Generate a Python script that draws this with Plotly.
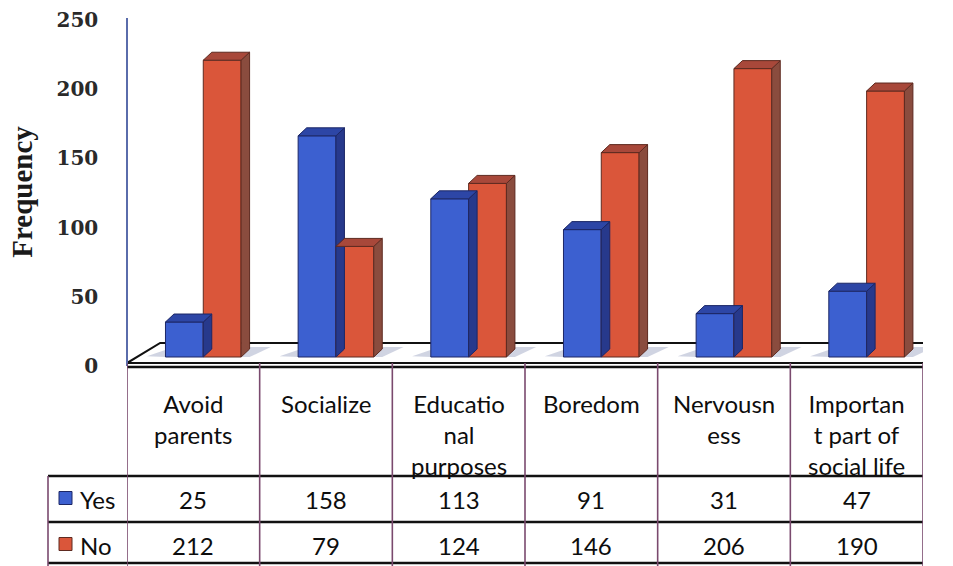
import plotly.graph_objects as go

# ---- data -------------------------------------------------------------
col_labels = ["Avoid<br>parents", "Socialize", "Educatio<br>nal<br>purposes",
              "Boredom", "Nervousn<br>ess", "Importan<br>t part of<br>social life"]
series_names = ["Yes", "No"]
yes_vals = [25, 158, 113, 91, 31, 47]
no_vals = [212, 79, 124, 146, 206, 190]
y_ticks = [0, 50, 100, 150, 200, 250]

# ---- page geometry helpers (pixels -> paper fractions) ------------------
W, H = 953, 566
def fx(px):
    return px / W
def fy(py):
    return 1 - py / H

# colours for front / top / side faces
BLUE = dict(front="#3c60d0", top="#2d46a6", side="#27398c", edge="#1c2766")
RED = dict(front="#da563a", top="#a8483a", side="#8a4c3e", edge="#5e2a20")

# bar layout in category units and 3-D depth offsets
BAR_W = 0.285
OFFS = [-0.21, 0.075]
DX, DY = 0.064, 5.7

cats = list(range(len(col_labels)))
fig = go.Figure()


def faces(vals, off, col, name):
    """Front face as a bar, plus top and side faces as filled polygons."""
    tx, ty, sx, sy = [], [], [], []
    for i, v in zip(cats, vals):
        x0, x1 = i + off, i + off + BAR_W
        tx += [x0, x1, x1 + DX, x0 + DX, x0, None]
        ty += [v, v, v + DY, v + DY, v, None]
        sx += [x1, x1 + DX, x1 + DX, x1, x1, None]
        sy += [0, DY, v + DY, v, 0, None]
    fig.add_trace(go.Scatter(x=sx, y=sy, fill="toself", fillcolor=col["side"],
                             mode="lines", line=dict(color=col["edge"], width=1),
                             hoverinfo="skip", showlegend=False))
    fig.add_trace(go.Scatter(x=tx, y=ty, fill="toself", fillcolor=col["top"],
                             mode="lines", line=dict(color=col["edge"], width=1),
                             hoverinfo="skip", showlegend=False))
    fig.add_trace(go.Bar(x=cats, y=vals, name=name, width=BAR_W, offset=off,
                         marker=dict(color=col["front"],
                                     line=dict(color=col["edge"], width=1)),
                         showlegend=False))


faces(yes_vals, OFFS[0], BLUE, series_names[0])
faces(no_vals, OFFS[1], RED, series_names[1])

# an invisible trace so the value axis is rendered
fig.add_trace(go.Scatter(x=[None], y=[None], xaxis="x", yaxis="y2",
                         showlegend=False, hoverinfo="skip"))

shapes = []
# floor of the 3-D plot area
shapes.append(dict(type="path", xref="x", yref="y", layer="below",
                   path="M -0.5,-4.3 L 5.5,-4.3 L 5.69,10 L -0.25,10 Z",
                   fillcolor="white", line=dict(color="#111", width=2)))
# soft shadows around each bar pair
for i in cats:
    x0 = i + OFFS[0]
    x1 = i + OFFS[1] + BAR_W + DX
    shapes.append(dict(type="path", xref="x", yref="y", layer="below",
                       path=f"M {x0-0.14},0.6 L {x0},0 L {x1},0 L {x1+0.16},{DY+1.5} L {x0+DX},{DY+1.5} Z",
                       fillcolor="rgba(150,160,190,0.45)", line=dict(width=0)))

# data table grid
LINE = dict(color="#111", width=2.5)
shapes.append(dict(type="line", xref="paper", yref="paper",
                   x0=fx(127), x1=fx(923), y0=fy(367), y1=fy(367), line=LINE))
for py in (476, 522, 563):
    shapes.append(dict(type="line", xref="paper", yref="paper",
                       x0=fx(48), x1=fx(923), y0=fy(py), y1=fy(py), line=LINE))
for k in range(len(cats) + 1):
    shapes.append(dict(type="line", xref="x", yref="paper",
                       x0=k - 0.5, x1=k - 0.5, y0=fy(363), y1=0,
                       line=dict(color="#7a4a6e", width=1.6)))
shapes.append(dict(type="line", xref="paper", yref="paper",
                   x0=fx(48), x1=fx(48), y0=fy(476), y1=0,
                   line=dict(color="#7a4a6e", width=1.6)))
# legend keys inside the table
for py, col in ((498, BLUE), (544, RED)):
    shapes.append(dict(type="rect", xref="paper", yref="paper",
                       x0=fx(59), x1=fx(72), y0=fy(py - 6.5), y1=fy(py + 6.5),
                       fillcolor=col["front"], line=dict(color=col["edge"], width=1)))

TXT = dict(family="Lato, 'Open Sans', sans-serif", size=24, color="#0d0d0d")
ann = []
for i, lab in zip(cats, col_labels):
    ann.append(dict(x=i, xref="x", y=fy(387), yref="paper", text=lab,
                    showarrow=False, xanchor="center", yanchor="top", font=TXT))
for row_py, vals in ((500, yes_vals), (545, no_vals)):
    for i, v in zip(cats, vals):
        ann.append(dict(x=i, xref="x", y=fy(row_py), yref="paper", text=str(v),
                        showarrow=False, xanchor="center", yanchor="middle", font=TXT))
for row_py, nm in ((500, series_names[0]), (545, series_names[1])):
    ann.append(dict(x=fx(78), xref="paper", y=fy(row_py), yref="paper", text=nm,
                    showarrow=False, xanchor="left", yanchor="middle", font=TXT))

fig.update_layout(
    template="none",
    width=W, height=H,
    margin=dict(l=0, r=0, t=0, b=0, pad=0),
    paper_bgcolor="white", plot_bgcolor="rgba(0,0,0,0)",
    barmode="overlay", showlegend=False,
    shapes=shapes, annotations=ann,
    xaxis=dict(domain=[fx(127), fx(923)], range=[-0.5, 5.5], visible=False,
               automargin=False, fixedrange=True),
    # scale used by the bars (front faces)
    yaxis=dict(domain=[fy(371), fy(7)], range=[-10, 250], visible=False,
               automargin=False, fixedrange=True),
    # value axis drawn along the back wall
    yaxis2=dict(domain=[fy(366), fy(18)], range=[0, 250 * 348 / 346],
                anchor="free", position=fx(127), side="left",
                tickvals=y_ticks, showgrid=False, zeroline=False,
                showline=True, linecolor="#5a6cab", linewidth=1.5,
                ticks="", ticklabelstandoff=24, automargin=False,
                tickfont=dict(family="DejaVu Serif", size=20, color="#2a2a2a",
                              weight="bold"),
                title=dict(text="Frequency", standoff=14,
                           font=dict(family="Liberation Serif", size=29,
                                     color="#1a1a1a", weight="bold")),
                fixedrange=True),
)

fig.write_html("out.html")
